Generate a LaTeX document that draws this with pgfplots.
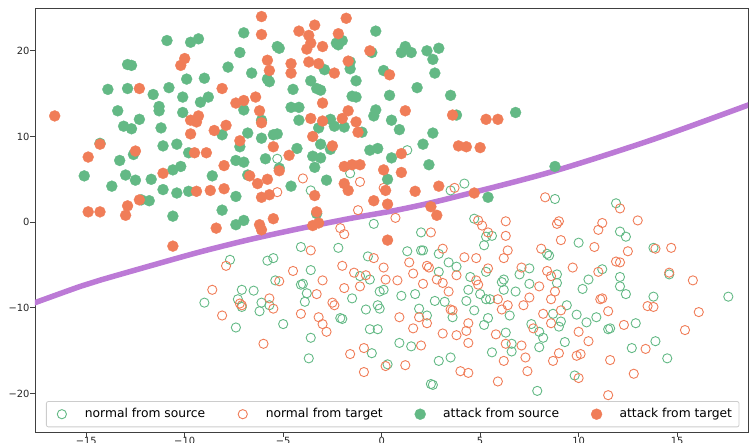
\documentclass[border=0pt]{standalone}
\usepackage{fontspec}
\setmainfont{DejaVu Sans}
\usepackage{pgfplots}
\pgfplotsset{compat=1.18}

\definecolor{srcgreen}{RGB}{99,185,133}
\definecolor{tgtorange}{RGB}{240,125,88}
\definecolor{bound}{RGB}{188,122,214}

\begin{document}
\begin{tikzpicture}
\begin{axis}[
  at={(0pt,0pt)}, anchor=south west,
  scale only axis, width=713pt, height=424pt,
  xmin=-17.6, xmax=18.6, ymin=-24.5, ymax=25.0,
  axis line style={black!75, line width=0.8pt},
  xtick={-15,-10,-5,0,5,10,15},
  xticklabels={−15,−10,−5,0,5,10,15},
  ytick={-20,-10,0,10,20},
  yticklabels={−20,−10,0,10,20},
  tick align=outside, tick pos=left,
  major tick length=4.5pt,
  tick style={black!75, line width=0.8pt},
  ticklabel style={font=\fontsize{9.9}{12}\selectfont, text=black!85},
  yticklabel style={inner sep=0.8pt},
  xticklabel style={inner sep=0.8pt},
  legend columns=4,
  legend cell align=left,
  legend style={
    at={(0.0154,0.0111)}, anchor=south west,
    draw=black!20, line width=0.8pt, rounded corners=2pt,
    fill=white, fill opacity=0.8, text opacity=1,
    inner xsep=7pt, inner ysep=6.2pt,
    font=\fontsize{12.3}{14}\selectfont,
    column sep=0pt, row sep=0pt,
    nodes={inner sep=0pt, text height=9.8pt, text depth=3.2pt},
    /tikz/every even column/.append style={column sep=29pt},
  },
  legend image code/.code={
    \path[draw=none, fill=none] (-8.5pt,-5pt) rectangle (23pt,5pt);
    \draw[fill opacity=1, draw opacity=1, sharp corners, #1] plot coordinates {(0pt,0pt)};
  },
]

% decision boundary
\addplot[forget plot, smooth, tension=0.5, color=bound, line width=5.5pt] coordinates {
  (-18.2,-9.9) (-17.6,-9.4) (-15.3,-7.5) (-14.29,-6.77) (-11.75,-5.10) (-9.21,-3.47)
  (-6.68,-2.02) (-4.14,-0.74) (-1.60,0.43) (0.94,1.48) (3.48,2.8)
  (8.57,5.84) (13.67,9.57) (18.6,13.66) (19.2,14.2)
};

% normal from source
\addplot[only marks, mark=o, mark size=4.6pt, draw=srcgreen, line width=0.9pt] coordinates {
(-5.3,7.4) (-3.6,3.7) (-1.6,5.7) (1.3,8.4) (-0.4,-0.2) (3.5,3.7) (4.2,4.5) (8.8,2.7)
(-4.1,-2.9) (-2.2,-3.0) (-7.7,-4.4) (-5.8,-4.5) (-5.5,-4.2) (-3.6,-5.6) (-1.1,-6.3) (-0.6,-6.7)
(-0.7,-4.0) (-5.4,-6.8) (-4.1,-7.3) (-4.0,-7.2) (-7.1,-7.9) (-6.5,-8.0) (-3.8,-8.3) (-7.3,-9.0)
(-7.1,-9.9) (-9.0,-9.4) (-6.1,-9.4) (-5.7,-9.7) (-6.2,-10.4) (-3.9,-9.3) (-1.5,-8.9) (-0.8,-10.2)
(-2.1,-11.2) (-2.0,-11.3) (-5.0,-11.9) (-7.4,-12.3) (-0.6,-12.5) (-0.2,-12.5) (-3.6,-13.5)
(-0.5,-15.3) (-3.7,-15.9)
(4.7,0.4) (2.0,-1.2) (5.3,-1.7) (5.6,-1.6) (5.2,-2.7) (1.3,-3.4) (2.0,-3.3) (2.1,-3.3) (2.9,-3.7)
(8.4,-3.7) (8.5,-3.9) (3.4,-4.7) (3.8,-5.2) (7.5,-5.4) (2.9,-5.8) (4.5,-6.4) (5.3,-5.8) (7.0,-6.1)
(8.9,-6.1) (6.2,-6.7) (6.1,-7.0) (7.5,-7.2) (8.9,-7.1) (-0.1,-8.1) (0.1,-7.9) (-0.2,-9.7)
(-0.1,-10.1) (0.3,-16.6) (1.0,-8.6) (1.7,-8.4) (2.7,-9.2) (3.2,-9.3) (4.4,-7.9) (4.3,-9.2)
(5.0,-8.4) (5.3,-9.0) (5.5,-9.0) (6.2,-7.9) (6.8,-8.1) (9.4,-9.7) (1.9,-10.1) (2.3,-10.9)
(3.6,-11.1) (4.7,-10.3) (6.5,-10.9) (5.4,-11.2) (5.2,-12.0) (8.7,-10.7) (9.1,-11.6) (9.0,-12.2)
(7.6,-11.9) (8.0,-12.8) (8.2,-13.5) (8.0,-14.6) (9.3,-14.0) (6.3,-12.9) (6.6,-14.2) (6.6,-15.1)
(5.6,-15.2) (0.9,-14.1) (1.5,-14.5) (2.9,-16.2) (3.5,-15.8) (2.5,-18.9) (2.6,-19.0) (7.9,-19.7)
(11.9,2.2) (12.1,-1.1) (12.4,-1.7) (10.0,-2.4) (13.8,-3.0) (11.2,-5.5) (10.5,-6.7) (10.2,-7.8)
(12.1,-6.4) (12.1,-7.5) (12.4,-8.4) (14.6,-6.1) (17.6,-8.7) (13.8,-8.7) (9.9,-10.8) (10.4,-11.7)
(10.9,-11.1) (11.5,-12.5) (11.6,-12.4) (12.9,-11.8) (13.9,-13.9) (12.7,-14.7) (14.5,-15.9) (9.8,-17.9)
};
\addlegendentry{normal from source}

% normal from target
\addplot[only marks, mark=o, mark size=4.6pt, draw=tgtorange, line width=0.9pt] coordinates {
(-4.0,5.1) (-5.3,3.5) (-1.1,4.7) (-1.2,1.4) (0.7,0.5) (0.1,4.0) (3.7,4.0) (-2.1,-0.7) (8.3,2.9)
(-3.6,-3.3) (-1.9,-1.4) (-7.9,-5.1) (-4.5,-5.7) (-2.0,-5.1) (-1.4,-5.9) (-0.8,-6.2) (-0.4,-4.2)
(-5.2,-6.9) (-3.0,-6.8) (-1.9,-7.7) (-1.1,-7.5) (-8.6,-7.9) (-3.3,-8.4) (-7.2,-9.5) (-7.1,-9.7)
(-5.7,-8.9) (-5.5,-10.1) (-2.5,-9.4) (-2.4,-9.7) (-8.1,-10.9) (-4.1,-10.7) (-3.2,-11.1)
(-3.0,-11.9) (-2.8,-12.8) (-6.0,-14.2) (-0.9,-14.7) (-1.6,-15.4) (-0.9,-17.5)
(4.9,0.2) (5.1,-0.4) (6.3,0.1) (8.9,-0.2) (9.0,0.1) (2.5,-1.2) (5.4,-1.2) (6.3,-1.6) (9.1,-2.1)
(3.1,-3.1) (6.4,-3.3) (8.1,-3.1) (1.4,-4.7) (4.2,-4.1) (4.8,-4.2) (6.2,-4.2) (2.3,-5.1) (2.4,-5.3)
(5.4,-5.4) (7.1,-5.3) (0.1,-5.3) (1.6,-6.0) (3.8,-6.2) (8.4,-5.7) (8.6,-6.3) (0.2,-6.7) (0.8,-6.8)
(2.1,-7.2) (2.8,-6.7) (3.1,-7.1) (4.8,-6.8) (4.9,-7.3) (8.0,-7.5) (3.4,-8.1) (5.9,-9.0) (7.5,-8.8)
(7.2,-9.7) (8.6,-9.0) (8.8,-8.1) (9.1,-10.3) (1.9,-11.1) (0.9,-11.1) (3.5,-10.2) (3.6,-10.3)
(6.1,-10.2) (6.4,-9.7) (4.4,-11.8) (2.3,-11.8) (8.2,-10.7) (8.6,-11.8) (7.7,-12.4) (1.6,-12.4)
(4.3,-12.7) (3.8,-13.2) (3.1,-13.0) (5.8,-13.1) (6.3,-14.2) (7.1,-14.4) (7.3,-15.8) (6.2,-16.2)
(4.4,-14.1) (2.0,-14.4) (1.2,-16.7) (4.0,-17.4) (4.4,-17.6) (5.9,-18.6) (7.4,-17.4) (9.0,-15.3)
(8.7,-16.2) (0.2,-16.8)
(12.1,1.6) (13.0,0.2) (11.2,-0.1) (11.0,-0.9) (10.8,-2.9) (12.5,-3.4) (13.9,-3.1) (14.7,-3.0)
(11.9,-4.6) (12.1,-4.7) (9.7,-5.3) (11.0,-5.8) (14.6,-5.9) (15.8,-6.8) (13.5,-9.8) (13.8,-9.9)
(16.1,-10.5) (11.1,-9.0) (11.2,-8.9) (11.5,-10.4) (10.0,-12.8) (10.5,-13.9) (12.3,-12.0)
(15.4,-12.6) (13.4,-14.8) (9.9,-15.6) (10.1,-15.4) (11.6,-16.1) (12.8,-17.7) (10.0,-18.2) (11.5,-20.2)
};
\addlegendentry{normal from target}

% attack from source
\addplot[only marks, mark=*, mark size=5.5pt, color=srcgreen, mark options={draw=srcgreen, fill=srcgreen, line width=0.3pt}] coordinates {
(-10.9,21.2) (-9.7,21.0) (-9.3,21.4) (-12.9,18.4) (-12.7,18.3) (-13.9,15.5) (-12.9,15.6) (-11.6,14.9)
(-10.8,15.7) (-9.9,16.7) (-9.0,16.8) (-10.1,14.6) (-9.2,14.0) (-8.8,14.6) (-13.4,13.0) (-11.3,13.5)
(-11.3,13.0) (-10.1,12.8) (-12.3,12.0) (-13.1,11.2) (-12.7,10.9) (-11.2,11.0) (-14.3,9.2) (-11.1,8.9)
(-10.4,9.1) (-12.6,7.9) (-9.8,8.1) (-13.3,7.2) (-15.1,5.4) (-13.0,5.5) (-12.5,4.9) (-11.7,5.0)
(-10.6,6.1) (-10.2,6.5) (-8.6,5.4) (-13.7,4.2) (-11.1,3.8) (-10.4,3.4) (-9.8,3.6) (-12.2,2.6)
(-11.8,2.5) (-10.6,0.7)
(-7.0,22.1) (-0.3,22.3) (-5.3,20.5) (-5.2,20.3) (-2.3,20.9) (-2.2,20.7) (-2.0,21.2) (-7.2,19.8)
(-0.5,19.8) (1.2,20.5) (1.0,19.8) (1.5,19.8) (2.3,20.0) (2.9,20.3) (2.6,19.0) (-1.6,18.7)
(-7.8,18.1) (-6.6,17.4) (-2.9,17.8) (-1.6,17.9) (0.1,17.7) (2.7,17.4) (-5.8,16.7) (-5.7,16.4)
(-3.6,16.5) (-1.3,16.5) (-4.5,15.5) (-3.3,15.6) (-3.1,15.4) (1.8,15.7) (-1.5,14.7) (-1.3,14.6)
(0.4,14.8) (-7.0,13.1) (3.5,14.8) (-4.6,13.4) (-4.2,13.4) (-0.3,13.1) (-0.4,12.4) (3.8,12.5)
(-6.1,11.9) (-4.2,11.9) (-2.6,12.0) (0.5,11.9) (-2.4,11.2) (-1.9,11.1) (-3.2,11.0) (-1.0,10.5)
(0.9,10.8) (-8.1,10.2) (-6.8,10.4) (-5.5,10.2) (-5.3,10.3) (2.6,10.4) (-7.2,8.8) (-6.1,9.8)
(-2.6,8.5) (-4.3,8.6) (-3.1,9.1) (2.1,9.1) (-0.6,8.4) (-0.2,8.6) (-7.4,7.2) (-7.0,7.0) (-5.9,7.4)
(-3.5,7.7) (-3.1,7.5) (0.5,7.5) (-3.4,6.4) (2.4,6.7) (-6.8,5.5) (-5.2,6.3) (-4.6,4.2) (-2.8,4.9)
(0.3,5.0) (-7.4,3.0) (-3.3,1.0) (-8.1,1.4) (-7.0,0.2) (-7.4,-0.3) (6.8,12.8) (8.8,6.5) (5.4,2.9)
};
\addlegendentry{attack from source}

% attack from target
\addplot[only marks, mark=*, mark size=5.5pt, color=tgtorange, mark options={draw=tgtorange, fill=tgtorange, line width=0.3pt}] coordinates {
(-16.6,12.4) (-10.2,18.3) (-10.0,19.1) (-12.3,15.6) (-9.7,11.9) (-9.4,11.7) (-9.3,12.4) (-8.5,10.7)
(-9.7,10.3) (-14.3,9.1) (-14.9,7.6) (-12.5,8.3) (-9.5,8.1) (-8.9,8.1) (-11.1,5.7) (-9.4,3.6)
(-8.7,3.7) (-14.9,1.2) (-14.3,1.2) (-12.9,1.9) (-13.0,0.8) (-12.3,2.6) (-8.4,-0.7)
(-6.1,24.0) (-1.8,23.8) (-6.1,21.9) (-4.2,22.3) (-3.4,23.0) (-3.7,21.8) (-2.2,22.0) (-3.6,20.9)
(-3.8,20.2) (-3.0,20.5) (-0.6,20.0) (-5.8,18.9) (-4.6,18.5) (-3.7,18.7) (-3.2,18.5) (-1.7,18.8)
(-5.7,17.7) (-4.6,17.4) (-2.4,17.4) (0.4,17.2) (-8.1,15.6) (-6.4,14.6) (-7.4,13.9) (-7.0,14.2)
(-3.0,13.9) (-6.2,13.0) (1.2,13.0) (-1.7,13.0) (-2.0,12.1) (-1.3,11.7) (3.6,12.5) (-6.1,11.6)
(-3.6,12.1) (-3.0,11.8) (-7.9,11.3) (-1.2,10.5) (-7.2,9.5) (-3.5,10.0) (-5.5,8.8) (-2.5,8.9)
(3.9,8.9) (4.3,8.8) (1.0,8.0) (-4.7,7.8) (-8.0,6.6) (-1.9,6.5) (-1.5,6.7) (-1.1,6.7) (-6.7,5.4)
(-5.2,6.0) (0.1,6.1) (1.0,5.8) (-6.3,4.5) (-5.8,5.0) (-8.0,3.9) (-1.9,4.5) (-1.7,3.7) (2.9,4.2)
(0.2,3.7) (1.7,3.6) (-6.1,2.9) (-5.7,3.2) (-3.4,3.1) (-0.4,2.5) (0.3,2.1) (2.5,1.8) (2.8,0.8)
(-3.3,1.2) (-5.5,0.4) (-6.2,-0.3) (-3.2,-0.1) (-3.5,-0.4) (-6.1,-0.9) (-10.6,-2.8) (4.7,3.4)
(5.3,12.0) (5.9,12.0) (5.0,8.7) (0.3,-2.1)
};
\addlegendentry{attack from target}

\end{axis}
\pgfresetboundingbox
\path[use as bounding box] (-35pt,-10pt) rectangle (716pt,432pt);
\end{tikzpicture}
\end{document}
